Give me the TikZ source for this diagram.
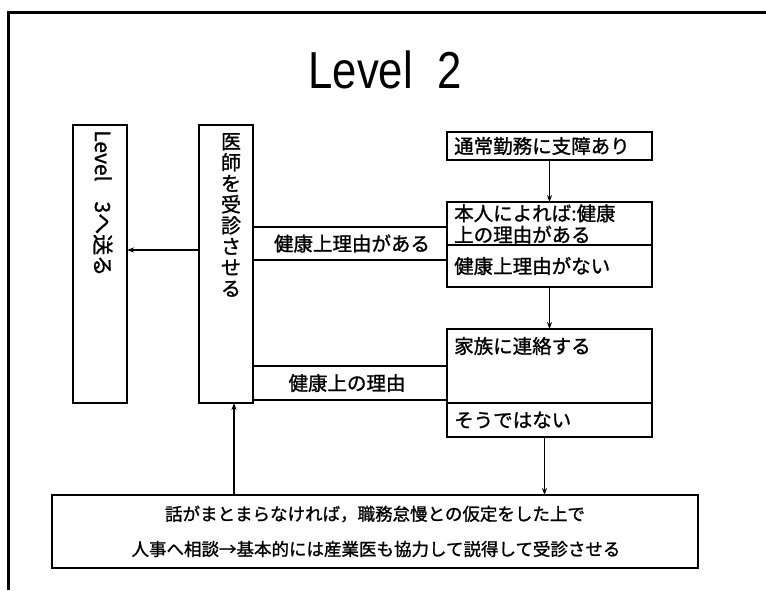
\documentclass[tikz,border=0pt]{standalone}
\usepackage{fontspec}
\setmainfont{Liberation Sans}
\newfontfamily\jp{Noto Sans CJK JP}[FakeBold=1.2]
\usetikzlibrary{arrows.meta,calc}
\tikzset{
  box/.style={draw, line width=1.6pt, fill=white, inner sep=0pt, outer sep=0pt},
  thin/.style={draw, line width=1.2pt, inner sep=0pt, outer sep=0pt},
  txt/.style={font=\jp\fontsize{19.5}{21.5}\selectfont, inner sep=0pt},
  btxt/.style={font=\jp\fontsize{17.5}{20}\selectfont, inner sep=0pt},
  arr/.style={line width=1.2pt, -{Stealth[length=7pt,width=5pt]}}
}
\begin{document}
\begin{tikzpicture}[x=1pt,y=-1pt]
\useasboundingbox (0,0) rectangle (766,590);
\fill[white] (0,0) rectangle (766,590);
% outer frame
\draw[line width=3pt] (766,12) -- (8.5,12) -- (8.5,590);
% title
\node[font=\fontsize{52}{56}\selectfont, inner sep=0pt] (title) at (385,70) {\scalebox{0.84}[1]{Level\ \ 2}};
% left boxes
\node[box, minimum width=54pt, minimum height=278pt] (lv3) at (100,264) {};
\node[box, minimum width=54pt, minimum height=278pt] (doc) at (226,264) {};
\node[txt, rotate=-90, anchor=west, font=\jp\fontsize{21}{22}\selectfont] (lv3t) at (103,130) {Level\hspace{20pt}3へ送る};
\node[txt, anchor=north, align=center, font=\jp\fontsize{20}{21}\selectfont] (doct) at (231,133) {医\\師\\を\\受\\診\\さ\\せ\\る};
% right column
\node[box, minimum width=205pt, minimum height=28pt] (tsujo) at (549.5,146) {};
\node[txt, anchor=west] at (454,146) {通常勤務に支障あり};
\node[box, minimum width=205pt, minimum height=43pt] (honnin) at (549.5,223.5) {};
\node[txt, anchor=west, align=left] at (454,224) {本人によれば:健康\\上の理由がある};
\node[box, minimum width=205pt, minimum height=42pt] (nai) at (549.5,266) {};
\node[txt, anchor=west] at (454,266) {健康上理由がない};
\node[box, minimum width=205pt, minimum height=74pt] (kazoku) at (549.5,366) {};
\node[txt, anchor=west] at (454,346) {家族に連絡する};
\node[box, minimum width=205pt, minimum height=34pt] (sou) at (549.5,420) {};
\node[txt, anchor=west] at (454,420) {そうではない};
% label boxes
\node[thin, minimum width=194pt, minimum height=33pt] (lab1) at (350,243.5) {};
\node[txt] at (352,243.5) {健康上理由がある};
\node[thin, minimum width=194pt, minimum height=34pt] (lab2) at (350,383) {};
\node[txt] at (347,383) {健康上の理由};
% bottom box
\node[box, minimum width=646pt, minimum height=73pt] (bot) at (375,531.5) {};
\node[btxt] at (375,514) {話がまとまらなければ，職務怠慢との仮定をした上で};
\node[btxt] at (376,549) {人事へ相談→基本的には産業医も協力して説得して受診させる};
% connectors
\draw[arr] ([yshift=14pt]doc.west) -- ([yshift=14pt]lv3.east);
\draw[arr] (tsujo.south) -- (honnin.north);
\draw[arr] (nai.south) -- (kazoku.north);
\draw[arr] ([xshift=-5pt]sou.south) -- ([xshift=-5pt]sou.south |- bot.north);
\draw[arr] ([xshift=8pt]doc.south |- bot.north) -- ([xshift=8pt]doc.south);
\end{tikzpicture}
\end{document}
